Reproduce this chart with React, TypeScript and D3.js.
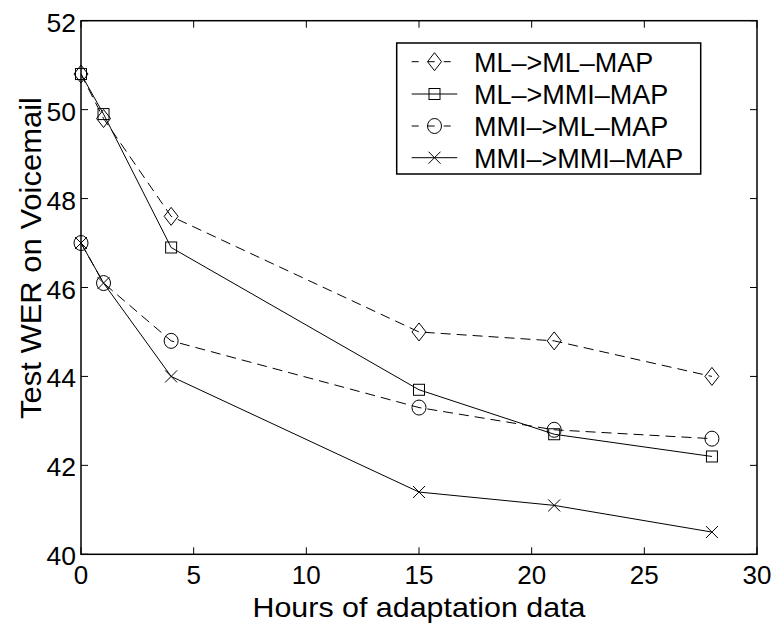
import React from "react";
import * as d3 from "d3";

const hours = [0, 1, 4, 15, 21, 28];
const mlMl = [50.8, 49.8, 47.6, 45.0, 44.8, 44.0];
const mlMmi = [50.8, 49.9, 46.9, 43.7, 42.7, 42.2];
const mmiMl = [47.0, 46.1, 44.8, 43.3, 42.8, 42.6];
const mmiMmi = [47.0, 46.1, 44.0, 41.4, 41.1, 40.5];
const seriesNames = ["ML–>ML–MAP", "ML–>MMI–MAP", "MMI–>ML–MAP", "MMI–>MMI–MAP"];
const xTicks = [0, 5, 10, 15, 20, 25, 30];
const yTicks = [40, 42, 44, 46, 48, 50, 52];

type Marker = "diamond" | "square" | "circle" | "x";
const series = [
  { name: seriesNames[0], values: mlMl, dashed: true, marker: "diamond" as Marker },
  { name: seriesNames[1], values: mlMmi, dashed: false, marker: "square" as Marker },
  { name: seriesNames[2], values: mmiMl, dashed: true, marker: "circle" as Marker },
  { name: seriesNames[3], values: mmiMmi, dashed: false, marker: "x" as Marker },
];

const W = 774, H = 624;
const L = 81, R = 757, T = 20.7, B = 554.3;
const FONT = "'Liberation Sans', Arial, Helvetica, sans-serif";

function MarkerShape({ type, x, y }: { type: Marker; x: number; y: number }) {
  const common = { fill: "none", stroke: "#000", strokeWidth: 1 };
  if (type === "diamond") {
    return <path d={`M${x},${y - 9}L${x + 7},${y}L${x},${y + 9}L${x - 7},${y}Z`} {...common} />;
  }
  if (type === "square") {
    return <rect x={x - 5.5} y={y - 5.5} width={11} height={11} {...common} />;
  }
  if (type === "circle") {
    return <ellipse cx={x} cy={y} rx={7} ry={7.5} {...common} />;
  }
  return <path d={`M${x - 6},${y - 6}L${x + 6},${y + 6}M${x - 6},${y + 6}L${x + 6},${y - 6}`} {...common} />;
}

export default function App() {
  const x = d3.scaleLinear().domain([0, 30]).range([L, R]);
  const y = d3.scaleLinear().domain([40, 52]).range([B, T]);
  const line = d3.line<number>().x((_, i) => x(hours[i])).y((v) => y(v));
  const tickLen = 7;
  const legX = 396.7, legY = 43, legW = 304, legH = 131;
  const rowY = [61.7, 94, 126, 157.7];

  return (
    <svg width={W} height={H} style={{ position: "absolute", left: 0, top: 0, background: "#fff" }}>
      <rect x={0} y={0} width={W} height={H} fill="#fff" />
      {series.map((s, si) => (
        <g key={si}>
          <path d={line(s.values) || ""} fill="none" stroke="#000" strokeWidth={1}
            strokeDasharray={s.dashed ? "10,6" : undefined} />
          {s.values.map((v, i) => (
            <MarkerShape key={i} type={s.marker} x={x(hours[i])} y={y(v)} />
          ))}
        </g>
      ))}
      <rect x={L} y={T} width={R - L} height={B - T} fill="none" stroke="#000" strokeWidth={1.5} />
      {xTicks.map((t) => (
        <g key={"xt" + t}>
          <line x1={x(t)} x2={x(t)} y1={B} y2={B - tickLen} stroke="#000" strokeWidth={1} />
          <line x1={x(t)} x2={x(t)} y1={T} y2={T + tickLen} stroke="#000" strokeWidth={1} />
          <text x={x(t)} y={583.5} textAnchor="middle" fontSize={26} fontFamily={FONT}>{t}</text>
        </g>
      ))}
      {yTicks.map((t) => (
        <g key={"yt" + t}>
          <line x1={L} x2={L + tickLen} y1={y(t)} y2={y(t)} stroke="#000" strokeWidth={1} />
          <line x1={R} x2={R - tickLen} y1={y(t)} y2={y(t)} stroke="#000" strokeWidth={1} />
          <text x={76} y={y(t) + 11} textAnchor="end" fontSize={26.5} fontFamily={FONT}>{t}</text>
        </g>
      ))}
      <text x={(L + R) / 2} y={616.5} textAnchor="middle" fontSize={28.5} fontFamily={FONT}
        textLength={333} lengthAdjust="spacingAndGlyphs">Hours of adaptation data</text>
      <text transform={`translate(41,258) rotate(-90)`} textAnchor="middle" fontSize={30} fontFamily={FONT}
        textLength={322} lengthAdjust="spacingAndGlyphs">Test WER on Voicemail</text>
      <rect x={legX} y={legY} width={legW} height={legH} fill="#fff" stroke="#000" strokeWidth={1.5} />
      {series.map((s, i) => (
        <g key={"lg" + i}>
          <line x1={411.7} x2={457.3} y1={rowY[i]} y2={rowY[i]} stroke="#000" strokeWidth={1}
            strokeDasharray={s.dashed ? "7,9" : undefined} />
          <MarkerShape type={s.marker} x={434.5} y={rowY[i]} />
          <text x={474} y={rowY[i] + 10} fontSize={27} fontFamily={FONT}>{s.name}</text>
        </g>
      ))}
    </svg>
  );
}
